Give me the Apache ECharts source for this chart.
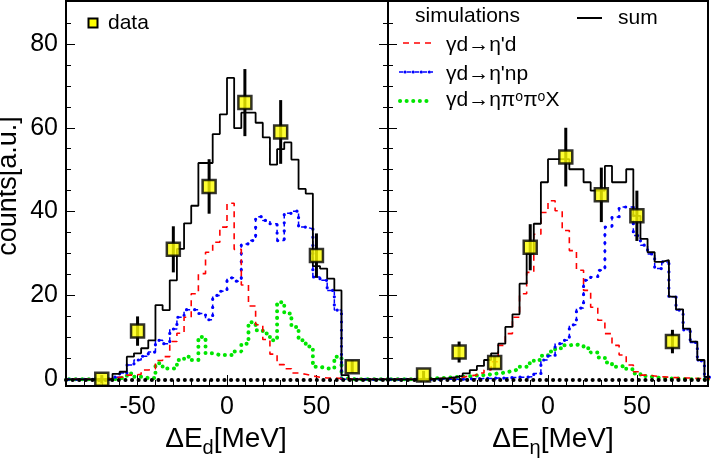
<!DOCTYPE html>
<html><head><meta charset="utf-8">
<script src="https://cdn.jsdelivr.net/npm/echarts@6/dist/echarts.min.js"></script>
<style>html,body{margin:0;padding:0;background:#fff}#c{width:711px;height:459px}</style>
</head><body><div id="c"></div>
<script>
// histogram binning: 4 MeV bins, lower edges from -92
const BIN_START = -92, BIN_WIDTH = 4;

// ---- left panel: ΔE_d ----
const leftSum    = [0,0,0,0,0,0,0,1.3,1.8,5.4,6.2,7.4,9.3,17.7,16.5,23.6,31.1,37.2,41.4,51.6,51.6,58.5,63.2,71.9,59.9,63.6,63.6,61.2,57.7,51.2,54.9,56.5,52.4,45.4,44.3,27,26.4,24.0,21.2,1.0,0,0,0,0,0,0];
const leftEtaPD  = [0,0,0,0,0,0,0.2,0.5,0.5,1.0,1.2,2.2,2.5,4.5,5.4,9,11,14.8,20.4,25.2,30.3,32.7,36.3,42,31,22.5,17.5,13,9.5,6,3.5,2.5,1.5,1.2,0.8,0.5,0.3,0.3,0.2,0.1,0,0,0,0,0,0];
const leftEtaPNP = [0,0,0,0,0,0,0,0.5,1.5,3.4,4.6,5.5,6.5,9.3,8.5,12,14.8,16.6,16.6,15.7,14.2,20,21,24.2,23.4,32.3,33.1,38.8,37.9,37.1,33.1,39.6,40.1,36.3,35.9,24.4,23.6,21.2,16.5,0,0,0,0,0,0,0];
const leftEtaPiPi= [0,0,0,0,0,0,0,0.2,0.5,1.4,0.6,0.3,0.3,3.8,2.6,2.6,4.6,5.4,4.6,10.1,6.2,5.8,5.8,5.8,6.6,8.5,13.6,11.7,10.9,9.3,18.4,15.7,12.5,9.3,7.8,3.0,2.6,2.6,5.4,0.2,0,0,0,0,0,0];
const leftDataX   = [-70,-50,-30,-10,10,30,50,70];
const leftDataY   = [0,11.5,31,46,66,59,29.5,3];
const leftDataErr = [1,3.5,5.5,6.5,8,7.6,5.3,1.5];

// ---- right panel: ΔE_η ----
const rightSum    = [0,0,0,0,0,0,0.1,0.2,0.3,0.5,0.8,1.4,2.2,3.2,4.6,6.2,8.5,12.5,15.5,22.8,30,37.1,47.0,52.5,52.5,52.5,50.1,50.1,47,45,45,50.9,47,47,50.1,39,33.5,30.3,28,28.4,19.7,16.7,12.1,9.0,4.6,0.6];
const rightEtaPD  = [0,0,0,0,0,0.1,0.1,0.2,0.3,0.3,0.5,0.8,1.0,1.5,2.2,4.2,8.1,10.9,14.8,20.4,25.5,34.6,39.8,42.6,40.2,35.5,30.7,26,21.2,17.2,14.1,10.9,8.1,5.8,3.4,1.8,1.0,0.8,0.6,0.5,0.4,0.3,0.3,0.2,0.2,0.1];
const rightEtaPNP = [0,0,0,0,0,0,0,0,0,0,0,0.1,0.1,0.2,0.2,0.3,0.3,0.4,0.5,0.5,0.6,1.4,4.6,5.6,8.5,9.3,13,17,23.6,24.4,26,36.3,38.7,41.1,41.1,34.3,32,29.9,26.4,28,19.7,16.5,11.8,8.8,4.4,0.5];
const rightEtaPiPi= [0,0,0,0,0,0.1,0.2,0.3,0.4,0.5,0.6,0.7,0.9,1.0,1.2,1.4,1.6,2.0,2.4,3.0,3.8,4.6,5.6,6.6,7.4,8.1,8.3,8.0,7.4,6.4,5.2,4.0,3.0,3.2,2.4,1.4,0.8,0.5,0.3,0.2,0.2,0.1,0,0,0,0];
const rightDataX   = [-70,-50,-30,-10,10,30,50,70];
const rightDataY   = [1,6.5,4,31.5,53,44,39,9];
const rightDataErr = [1,2.5,1.5,5.5,7,6.5,6,2.8];

// axis ticks
const xMajor = [-50,0,50];
const xMinor = [-80,-70,-60,-40,-30,-20,-10,10,20,30,40,60,70,80];
const yMajor = [0,20,40,60,80];
const yMinor = [5,10,15,25,30,35,45,50,55,65,70,75,85];
const X_MIN = -90, X_MAX = 90, Y_MIN = -1.6, Y_MAX = 90;

const FONT = 'Liberation Sans, Arial, Helvetica, sans-serif';

function histPoints(counts){
  const pts = counts.map((v,i)=>[BIN_START + i*BIN_WIDTH, v]);
  pts.push([BIN_START + counts.length*BIN_WIDTH, counts[counts.length-1]]);
  return pts;
}

const grids = [
  {left:66, top:2, width:322, height:384},
  {left:388, top:2, width:320, height:384}
];

const noLine = {show:false, onZero:false};
const xAxes = [], yAxes = [];
[0,1].forEach(g=>{
  xAxes.push({type:'value', gridIndex:g, min:X_MIN, max:X_MAX, position:'bottom',
    axisLine:noLine, splitLine:{show:false},
    axisTick:{inside:true, length:11, customValues:xMajor, lineStyle:{color:'#000', width:1}},
    axisLabel:{customValues:xMajor, fontSize:25, fontFamily:FONT, color:'#000', margin:9}});
  xAxes.push({type:'value', gridIndex:g, min:X_MIN, max:X_MAX, position:'bottom',
    axisLine:noLine, splitLine:{show:false},
    axisTick:{inside:true, length:6, customValues:xMinor, lineStyle:{color:'#000', width:1}},
    axisLabel:{show:false}});
  yAxes.push({type:'value', gridIndex:g, min:Y_MIN, max:Y_MAX, position:'left',
    axisLine:noLine, splitLine:{show:false},
    axisTick:{inside:true, length:9, customValues:yMajor, lineStyle:{color:'#000', width:1}},
    axisLabel:{show: g===0, customValues:yMajor, fontSize:25, fontFamily:FONT, color:'#000', margin:8}});
  yAxes.push({type:'value', gridIndex:g, min:Y_MIN, max:Y_MAX, position:'left',
    axisLine:noLine, splitLine:{show:false},
    axisTick:{inside:true, length:5, customValues:yMinor, lineStyle:{color:'#000', width:1}},
    axisLabel:{show:false}});
});
yAxes.push({type:'value', gridIndex:0, min:Y_MIN, max:Y_MAX, position:'right',
  axisLine:noLine, splitLine:{show:false},
  axisTick:{inside:true, length:9, customValues:yMajor, lineStyle:{color:'#000'}}, axisLabel:{show:false}});
yAxes.push({type:'value', gridIndex:0, min:Y_MIN, max:Y_MAX, position:'right',
  axisLine:noLine, splitLine:{show:false},
  axisTick:{inside:true, length:5, customValues:yMinor, lineStyle:{color:'#000'}}, axisLabel:{show:false}});

const GREEN = '#00e600', BLUE = '#0000ff', RED = '#ff0000';

function panelSeries(g, sum, pd, pnp, pipi, dx, dy, de){
  const xi = g*2, yi = g*2;
  const base = {type:'line', step:'end', xAxisIndex:xi, yAxisIndex:yi, symbol:'none', silent:true};
  return [
    Object.assign({}, base, {data:histPoints(pipi), z:2,
      lineStyle:{color:GREEN, width:4, type:[0.1,6.5], cap:'round'}}),
    Object.assign({}, base, {data:histPoints(pnp), z:3,
      lineStyle:{color:BLUE, width:1.5, type:[4,4]}}),
    Object.assign({}, base, {data:histPoints(pnp), z:3,
      lineStyle:{color:BLUE, width:3.2, type:[0.1,8], dashOffset:-6, cap:'round'}}),
    Object.assign({}, base, {data:histPoints(pd), z:4,
      lineStyle:{color:RED, width:1.6, type:[6,5]}}),
    Object.assign({}, base, {data:histPoints(sum), z:5,
      lineStyle:{color:'#000', width:1.8},
      markLine:{silent:true, symbol:'none', label:{show:false},
        lineStyle:{color:'#000', width:4, type:[0.1,6.5], cap:'round'},
        data:[{yAxis:0}]}}),
    {type:'custom', xAxisIndex:xi, yAxisIndex:yi, z:6, silent:true,
      data: dx.map((x,i)=>[x, dy[i], de[i]]),
      renderItem:(params, api)=>{
        const x = api.value(0), y = api.value(1), e = api.value(2);
        const p1 = api.coord([x, y - e]), p2 = api.coord([x, y + e]);
        return {type:'line', shape:{x1:p1[0], y1:p1[1], x2:p2[0], y2:p2[1]},
          style:{stroke:'#000', lineWidth:3}};
      }},
    {type:'scatter', xAxisIndex:xi, yAxisIndex:yi, z:7, silent:true,
      data: dx.map((x,i)=>[x, dy[i]]), symbol:'rect', symbolSize:13,
      itemStyle:{color:'#ffff00', borderColor:'#000', borderWidth:2.5}}
  ];
}

const series = [].concat(
  panelSeries(0, leftSum, leftEtaPD, leftEtaPNP, leftEtaPiPi, leftDataX, leftDataY, leftDataErr),
  panelSeries(1, rightSum, rightEtaPD, rightEtaPNP, rightEtaPiPi, rightDataX, rightDataY, rightDataErr)
);

const mctx = document.createElement('canvas').getContext('2d');
function tw(t, size){ mctx.font = size + 'px ' + FONT; return mctx.measureText(t).width; }
function subTitle(cx, cy, a, sub, b){
  const M = 28, S = 20;
  const w1 = tw(a, M), ws = tw(sub, S), w2 = tw(b, M);
  const x0 = cx - (w1 + ws + w2)/2;
  return [
    {type:'text', x:x0, y:cy, style:{text:a, font:M+'px '+FONT, fill:'#000', textVerticalAlign:'middle'}, z:100},
    {type:'text', x:x0 + w1, y:cy + 9, style:{text:sub, font:S+'px '+FONT, fill:'#000', textVerticalAlign:'middle'}, z:100},
    {type:'text', x:x0 + w1 + ws, y:cy, style:{text:b, font:M+'px '+FONT, fill:'#000', textVerticalAlign:'middle'}, z:100}
  ];
}

const legFont = 21;
const graphic = [
  {type:'rect', shape:{x:66, y:1, width:322, height:385}, style:{fill:'none', stroke:'#000', lineWidth:2}, z:100},
  {type:'rect', shape:{x:388, y:1, width:320, height:385}, style:{fill:'none', stroke:'#000', lineWidth:2}, z:100},
  {type:'rect', shape:{x:88.5, y:18.5, width:9, height:9}, style:{fill:'#ffff00', stroke:'#000', lineWidth:2}, z:100},
  {type:'text', x:108, y:23, style:{text:'data', font:legFont+'px '+FONT, fill:'#000', textVerticalAlign:'middle'}, z:100},
  {type:'text', x:415, y:16, style:{text:'simulations', font:legFont+'px '+FONT, fill:'#000', textVerticalAlign:'middle'}, z:100},
  {type:'line', shape:{x1:577, y1:18, x2:602, y2:18}, style:{stroke:'#000', lineWidth:2}, z:100},
  {type:'text', x:618, y:18, style:{text:'sum', font:legFont+'px '+FONT, fill:'#000', textVerticalAlign:'middle'}, z:100},
  {type:'line', shape:{x1:403, y1:43, x2:433, y2:43}, style:{stroke:RED, lineWidth:1.6, lineDash:[6,5]}, z:100},
  {type:'text', x:446, y:45, style:{text:"γd→η'd", font:legFont+'px '+FONT, fill:'#000', textVerticalAlign:'middle'}, z:100},
  {type:'line', shape:{x1:399, y1:72, x2:433, y2:72}, style:{stroke:BLUE, lineWidth:1.5, lineDash:[4,4]}, z:100},
  {type:'line', shape:{x1:399, y1:72, x2:433, y2:72}, style:{stroke:BLUE, lineWidth:3.2, lineDash:[0.1,8], lineDashOffset:-6, lineCap:'round'}, z:100},
  {type:'text', x:446, y:74, style:{text:"γd→η'np", font:legFont+'px '+FONT, fill:'#000', textVerticalAlign:'middle'}, z:100},
  {type:'line', shape:{x1:400, y1:101, x2:432, y2:101}, style:{stroke:GREEN, lineWidth:4, lineDash:[0.1,6.5], lineCap:'round'}, z:100},
  {type:'text', x:446, y:102, style:{
    text:'{m|γd→ηπ}{s|o}{m|π}{s|o}{m|X}',
    rich:{m:{fontSize:legFont, fontFamily:FONT, fill:'#000', lineHeight:24, verticalAlign:'top'},
          s:{fontSize:14, fontFamily:FONT, fill:'#000', lineHeight:12, verticalAlign:'top'}},
    textVerticalAlign:'middle'}, z:100},
  {type:'text', x:8.5, y:186, rotation:Math.PI/2, style:{
    text:'counts[a.u.]', font:'27px '+FONT, fill:'#000', textAlign:'center', textVerticalAlign:'middle'}, z:100}
].concat(subTitle(226, 439, 'ΔE', 'd', '[MeV]'), subTitle(553, 439, 'ΔE', 'η', '[MeV]'));

const chart = echarts.init(document.getElementById('c'), null, {renderer:'canvas'});
chart.setOption({
  animation:false,
  backgroundColor:'#fff',
  grid: grids,
  xAxis: xAxes,
  yAxis: yAxes,
  series: series,
  graphic: graphic
});
</script></body></html>
